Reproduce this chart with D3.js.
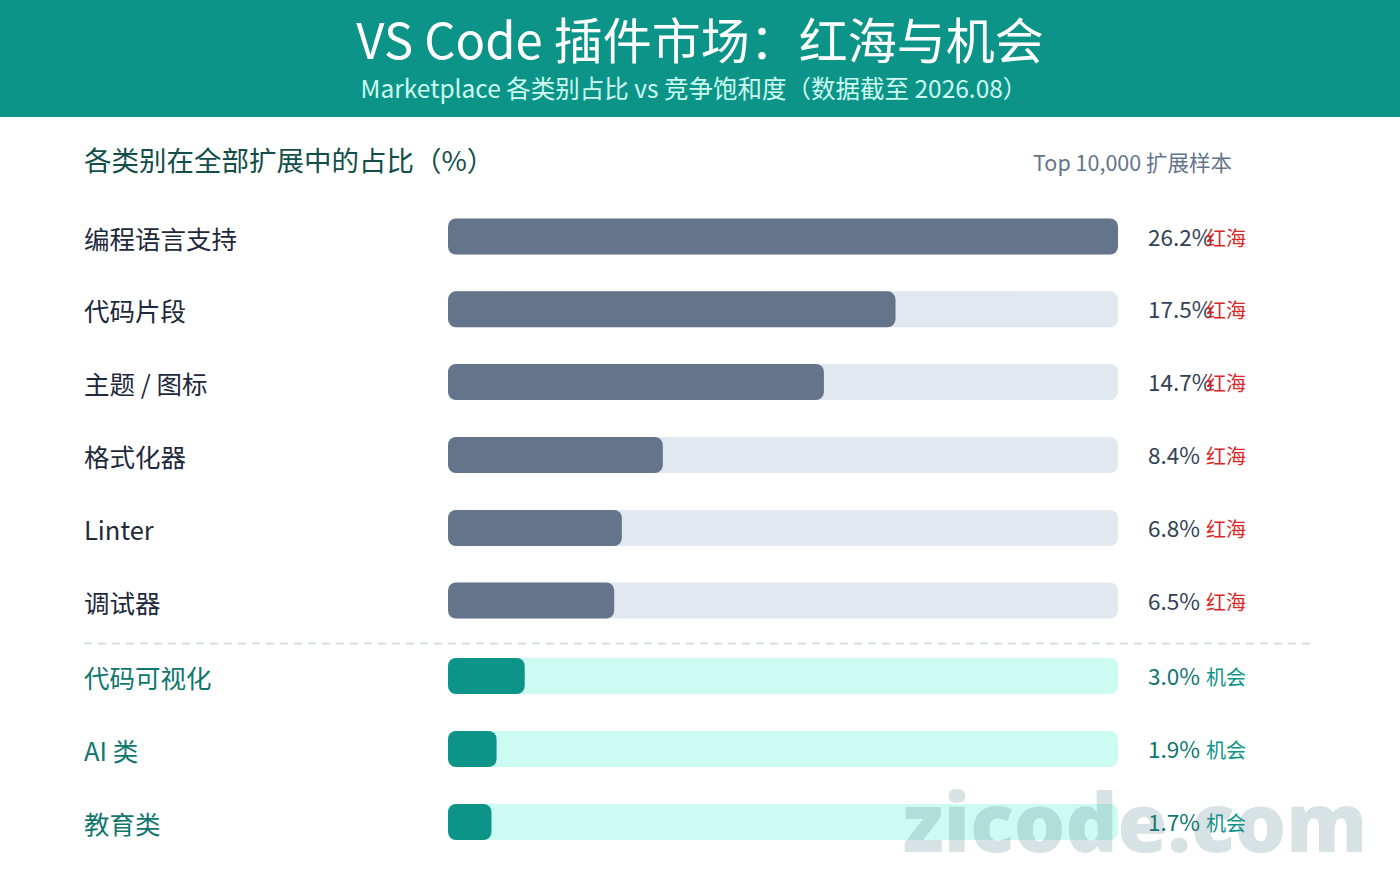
<!DOCTYPE html>
<html><head><meta charset="utf-8">
<script src="https://cdn.jsdelivr.net/npm/d3@7"></script>
<style>
html,body{margin:0;padding:0;background:#fff;}
svg{display:block;font-family:"Noto Sans CJK SC","Noto Sans",sans-serif;}
</style></head>
<body><svg id="c" width="1400" height="896"></svg>
<script>
const categories = ["编程语言支持","代码片段","主题 / 图标","格式化器","Linter","调试器","代码可视化","AI 类","教育类"];
const shares = [26.2, 17.5, 14.7, 8.4, 6.8, 6.5, 3.0, 1.9, 1.7];
const tags = ["红海","红海","红海","红海","红海","红海","机会","机会","机会"];
const groups = ["red","red","red","red","red","red","opp","opp","opp"];

const svg = d3.select("#c");
const W = 1400;

// header
svg.append("rect").attr("x",0).attr("y",0).attr("width",W).attr("height",117).attr("fill","#0d9488");
svg.append("text").attr("x",700).attr("y",59).attr("text-anchor","middle")
  .attr("fill","#fff").attr("font-size",49).text("VS Code 插件市场：红海与机会");
svg.append("text").attr("x",694).attr("y",98).attr("text-anchor","middle")
  .attr("fill","#ccfbf1").attr("font-size",24.5).text("Marketplace 各类别占比 vs 竞争饱和度（数据截至 2026.08）");

svg.append("text").attr("x",84).attr("y",171).attr("fill","#134e4a").attr("font-size",27.5)
  .text("各类别在全部扩展中的占比（%）");
svg.append("text").attr("x",1232).attr("y",171).attr("text-anchor","end").attr("fill","#64748b").attr("font-size",21.5)
  .text("Top 10,000 扩展样本");

const x = d3.scaleLinear().domain([0, d3.max(shares)]).range([448, 1118]);
const centers = [236.5, 309.3, 382, 455, 528, 600.5, 676, 749, 822];
const y = d3.scaleOrdinal().domain(categories).range(centers);
const bh = 36;

const pal = {
  red: {track:"#e2e8f0", bar:"#64748b", label:"#1e293b", val:"#334155", tag:"#dc2626"},
  opp: {track:"#ccfbf1", bar:"#0d9488", label:"#0f766e", val:"#0f766e", tag:"#0d9488"}
};

const rows = svg.selectAll("g.row").data(categories).join("g").attr("class","row");
rows.append("text").attr("x",84).attr("y",d=>y(d)+12).attr("font-size",25.5)
  .attr("fill",(d,i)=>pal[groups[i]].label).text(d=>d);
rows.append("rect").attr("x",x(0)).attr("y",d=>y(d)-bh/2).attr("width",x(d3.max(shares))-x(0)).attr("height",bh)
  .attr("rx",8).attr("fill",(d,i)=>pal[groups[i]].track);
rows.append("rect").attr("x",x(0)).attr("y",d=>y(d)-bh/2).attr("width",(d,i)=>x(shares[i])-x(0)).attr("height",bh)
  .attr("rx",8).attr("fill",(d,i)=>pal[groups[i]].bar);
rows.append("text").attr("x",1148).attr("y",d=>y(d)+9).attr("font-size",22.5)
  .attr("fill",(d,i)=>pal[groups[i]].val).text((d,i)=>shares[i].toFixed(1)+"%");
rows.append("text").attr("x",1206).attr("y",d=>y(d)+9).attr("font-size",20)
  .attr("fill",(d,i)=>pal[groups[i]].tag).text((d,i)=>tags[i]);

// divider
svg.append("line").attr("x1",84).attr("x2",1316).attr("y1",643.5).attr("y2",643.5)
  .attr("stroke","#cbd5e1").attr("stroke-width",1.5).attr("stroke-dasharray","8,6");

// watermark
svg.append("text").attr("x",1135).attr("y",852).attr("text-anchor","middle")
  .attr("font-family","'Open Sans','DejaVu Sans',sans-serif").attr("font-weight",800).attr("font-size",81)
  .attr("fill","#4f7d87").attr("opacity",0.22).text("zicode.com");
</script></body></html>
